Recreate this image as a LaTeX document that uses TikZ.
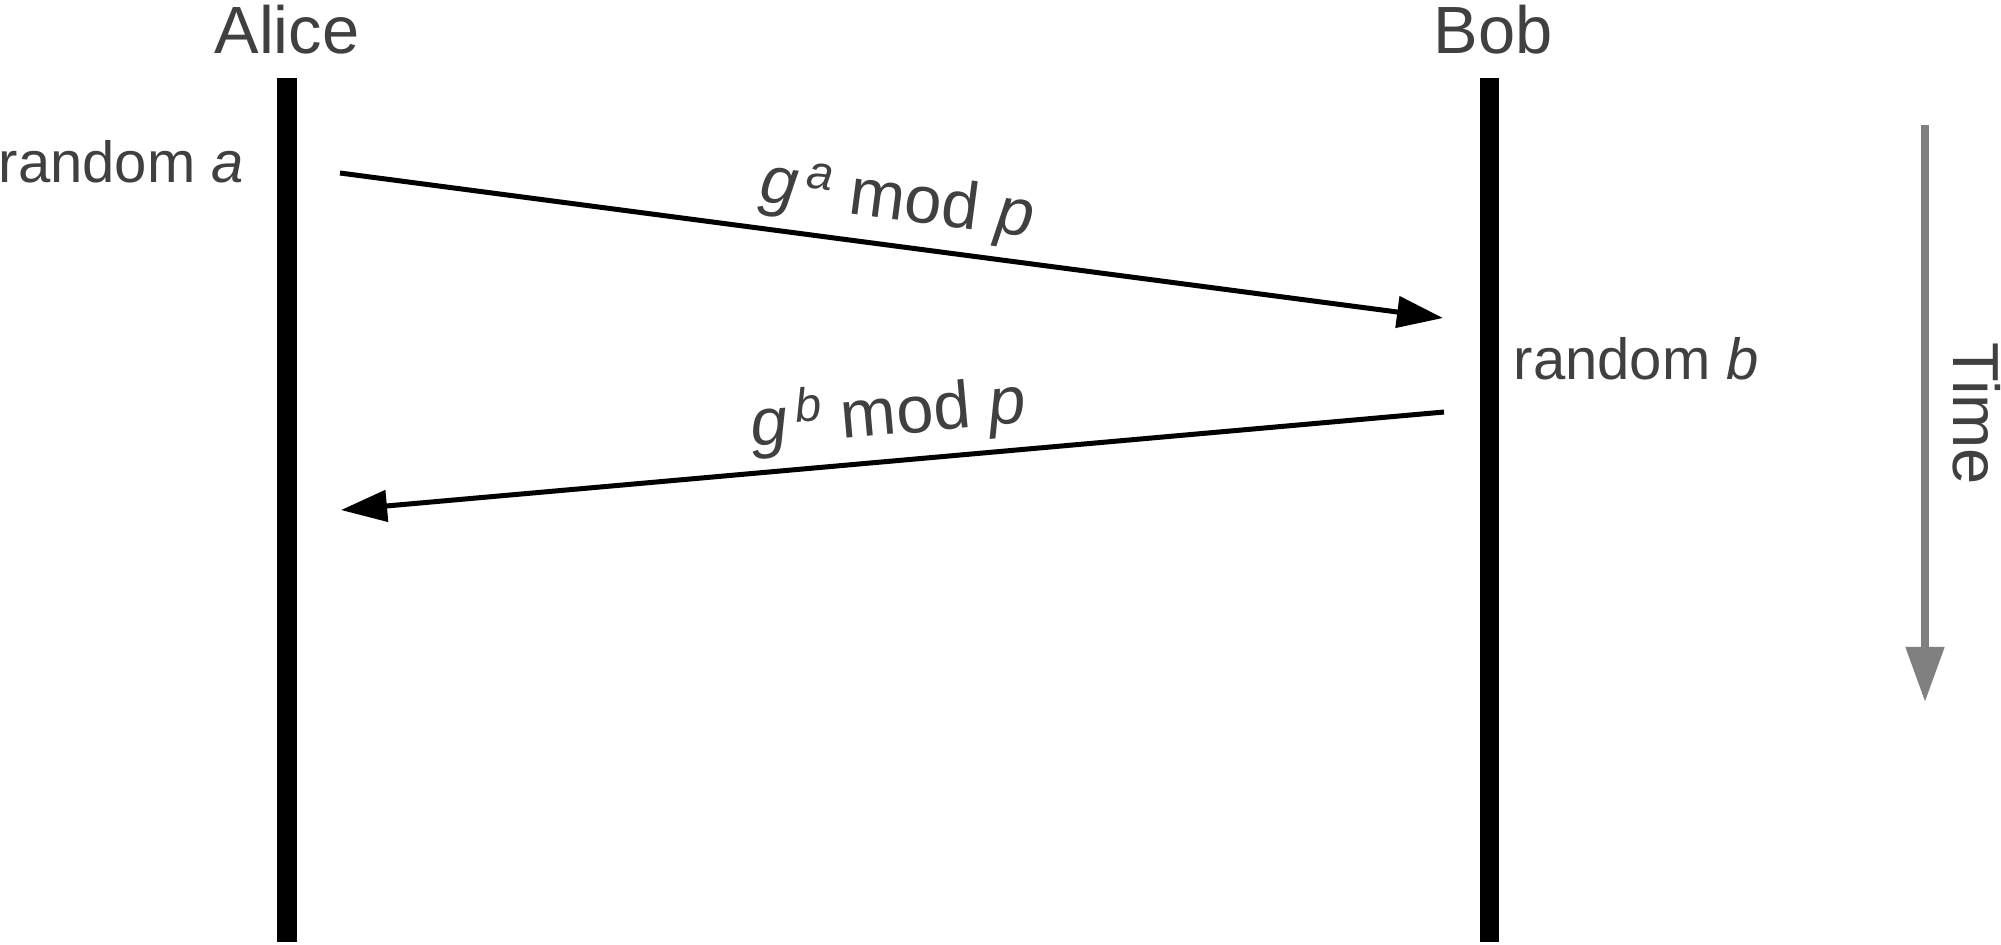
\documentclass[tikz,border=0pt]{standalone}
\usepackage{fontspec}
\setmainfont{Liberation Sans}
\usetikzlibrary{arrows.meta}
\definecolor{ink}{RGB}{64,64,64}
\definecolor{timegray}{RGB}{128,128,128}
\newcommand{\supscr}[1]{\kern0.12em\raisebox{0.3em}{\fontsize{13.5}{13.5}\selectfont\textit{#1}}}

\begin{document}
\begin{tikzpicture}[x=0.01cm,y=-0.01cm,
        actor/.style={font=\fontsize{19}{23}\selectfont,text=ink,inner sep=0pt,anchor=base},
        note/.style={font=\fontsize{16.5}{20}\selectfont,text=ink,inner sep=0pt},
        lifeline/.style={line width=0.19cm},
        msg/.style={-{Triangle[length=0.46cm,width=0.31cm]},line width=0.05cm},
        msglabel/.style={font=\fontsize{19}{23}\selectfont,text=ink,midway,sloped,above=0.1cm,inner sep=0pt},
        timeline/.style={-{Triangle[length=0.55cm,width=0.37cm]},line width=0.08cm,timegray}]
        \useasboundingbox(0,0)rectangle(2001,944);

        \node[actor](alice)at(287,53){Alice};
        \node[actor](bob)at(1493,53){Bob};
        \coordinate(atop)at(287,78);\coordinate(abot)at(287,942);
        \coordinate(btop)at(1489,78);\coordinate(bbot)at(1489,942);
        \draw[lifeline](atop)--(abot);
        \draw[lifeline](btop)--(bbot);

        \node[note,anchor=base west](randa)at(-2,182){random \textit{a}};
        \node[note,anchor=base west](randb)at(1513,379){random \textit{b}};

        \coordinate(ga0)at(340,173);\coordinate(ga1)at(1443,318);
        \coordinate(gb0)at(1444,412);\coordinate(gb1)at(341,510);
        \draw[msg](ga0)--(ga1)node[msglabel](ga){\textit{g}\supscr{a} mod \textit{p}};
        \draw[msg](gb0)--(gb1)node[msglabel](gb){\textit{g}\supscr{b} mod \textit{p}};

        \coordinate(t0)at(1925,125);\coordinate(t1)at(1925,702);
        \draw[timeline](t0)--(t1);
        \node[note,font=\fontsize{18.5}{22}\selectfont,rotate=-90,anchor=base](time)at(1953,414){Time};
    \end{tikzpicture}
\end{document}
